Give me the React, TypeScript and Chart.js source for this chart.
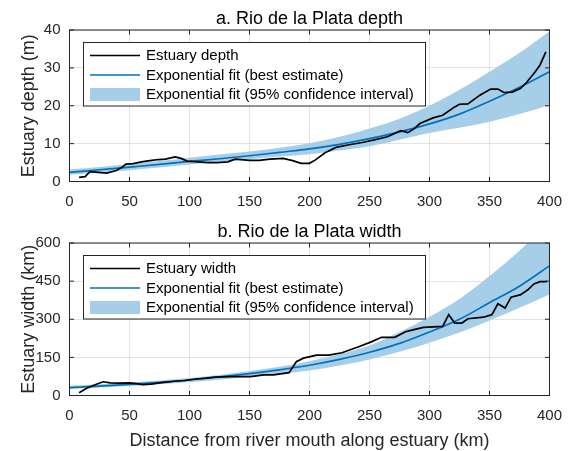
import React, { useEffect, useRef } from 'react';
import { Chart, registerables } from 'chart.js';
Chart.register(...registerables);

// ---------- data ----------
const fitKm = [0, 25, 50, 75, 100, 125, 150, 175, 200, 225, 250, 275, 300, 325, 350, 375, 400];

const depthKm = [8, 13, 17, 24, 31, 39, 44, 47, 53, 60, 67, 74, 80, 88, 93, 98, 107, 115, 123, 132, 138, 150, 158, 167, 178, 186, 193, 200, 205, 213, 222, 233, 244, 254, 265, 276, 282, 287, 292, 303, 311, 321, 325, 332, 342, 351, 357, 362, 369, 376, 381, 387, 392, 397];
const depthM = [1.1, 1.3, 2.6, 2.4, 2.2, 2.9, 3.8, 4.6, 4.7, 5.2, 5.5, 5.8, 5.9, 6.5, 6.1, 5.4, 5.2, 5.0, 5.0, 5.2, 5.9, 5.6, 5.6, 5.9, 6.1, 5.5, 4.8, 4.8, 5.7, 7.6, 9.0, 9.7, 10.3, 11.0, 11.8, 13.4, 12.9, 13.9, 15.3, 16.8, 17.5, 19.7, 20.4, 20.5, 22.8, 24.4, 24.4, 23.5, 23.6, 24.6, 26.2, 28.5, 30.7, 34.2];
const depthFit = [2.4, 3.1, 3.8, 4.5, 5.3, 6.0, 6.8, 7.7, 8.6, 9.8, 11.3, 13.1, 15.2, 17.8, 21.2, 24.9, 29.0];
const depthLower = [1.8, 2.4, 3.0, 3.7, 4.5, 5.2, 5.9, 6.6, 7.2, 8.2, 9.3, 11.0, 12.8, 14.2, 15.8, 17.8, 20.2];
const depthUpper = [3.2, 3.8, 4.6, 5.4, 6.3, 7.1, 7.9, 8.9, 10.1, 11.8, 14.0, 16.6, 20.0, 24.2, 29.0, 34.0, 39.7];

const widthKm = [8, 15, 23, 28, 34, 42, 50, 56, 61, 68, 75, 88, 96, 105, 114, 121, 134, 151, 162, 170, 183, 189, 195, 206, 216, 227, 241, 252, 260, 271, 280, 287, 295, 311, 316, 321, 327, 332, 345, 352, 357, 363, 368, 376, 382, 387, 392, 398];
const widthVal = [11, 30, 45, 54, 50, 49, 50, 47, 43, 45, 50, 56, 59, 65, 68, 72, 74, 74, 81, 81, 90, 133, 147, 159, 159, 168, 192, 212, 229, 229, 251, 259, 268, 272, 318, 285, 285, 302, 308, 318, 361, 344, 387, 397, 416, 439, 448, 448];
const widthFit = [31, 37, 44, 52, 61, 73, 86, 101, 119, 142, 170, 205, 250, 300, 365, 430, 510];
const widthLower = [26, 31, 37, 44, 53, 62, 74, 86, 98, 118, 142, 172, 208, 248, 295, 345, 397];
const widthUpper = [38, 44, 51, 59, 69, 81, 96, 113, 135, 163, 197, 250, 310, 380, 470, 570, 680];

const depthTicks = [0, 10, 20, 30, 40];
const widthTicks = [0, 150, 300, 450, 600];
const distanceTicks = [0, 50, 100, 150, 200, 250, 300, 350, 400];

// ---------- style ----------
const FONT = '"Liberation Sans", Arial, Helvetica, sans-serif';
const BLUE = '#0072BD';
const BAND = '#A6CEE8';
const AXIS = '#262626';

const pts = (xs: number[], ys: number[]) => xs.map((x, i) => ({ x, y: ys[i] }));

interface PanelSpec {
  title: string;
  yTitle: string;
  xTitle?: string;
  yMax: number;
  yStep: number;
  yTicks: number[];
  top: number; // chart area top (page px)
  bottom: number; // chart area bottom (page px)
  dataKm: number[];
  dataVal: number[];
  fit: number[];
  lower: number[];
  upper: number[];
  legendLabel: string;
}

const panels: PanelSpec[] = [
  {
    title: 'a. Rio de la Plata depth',
    yTitle: 'Estuary depth (m)',
    yMax: 40,
    yStep: 10,
    yTicks: depthTicks,
    top: 30,
    bottom: 181.5,
    dataKm: depthKm,
    dataVal: depthM,
    fit: depthFit,
    lower: depthLower,
    upper: depthUpper,
    legendLabel: 'Estuary depth',
  },
  {
    title: 'b. Rio de la Plata width',
    yTitle: 'Estuary width (km)',
    xTitle: 'Distance from river mouth along estuary (km)',
    yMax: 600,
    yStep: 150,
    yTicks: widthTicks,
    top: 243,
    bottom: 395.5,
    dataKm: widthKm,
    dataVal: widthVal,
    fit: widthFit,
    lower: widthLower,
    upper: widthUpper,
    legendLabel: 'Estuary width',
  },
];

const W = 573;
const H = 451;
const LEFT = 69.5;
const RIGHT = 557;

function decorPlugin(p: PanelSpec) {
  return {
    id: 'decor',
    afterDraw(chart: any) {
      const ctx = chart.ctx as CanvasRenderingContext2D;
      const a = chart.chartArea;
      const xs = chart.scales.x;
      const ys = chart.scales.y;
      ctx.save();
      // box
      ctx.strokeStyle = AXIS;
      ctx.lineWidth = 1;
      ctx.strokeRect(a.left, a.top, a.right - a.left, a.bottom - a.top);
      // inward ticks
      const tl = 4.5;
      ctx.beginPath();
      distanceTicks.forEach((t) => {
        const x = xs.getPixelForValue(t);
        ctx.moveTo(x, a.bottom);
        ctx.lineTo(x, a.bottom - tl);
        ctx.moveTo(x, a.top);
        ctx.lineTo(x, a.top + tl);
      });
      p.yTicks.forEach((t) => {
        const y = ys.getPixelForValue(t);
        ctx.moveTo(a.left, y);
        ctx.lineTo(a.left + tl, y);
        ctx.moveTo(a.right, y);
        ctx.lineTo(a.right - tl, y);
      });
      ctx.stroke();

      // title
      ctx.fillStyle = '#000';
      ctx.font = `18px ${FONT}`;
      ctx.textAlign = 'center';
      ctx.textBaseline = 'alphabetic';
      ctx.fillText(p.title, (a.left + a.right) / 2, a.top - 6.5);

      // y title
      ctx.save();
      ctx.fillStyle = AXIS;
      ctx.translate(34, (a.top + a.bottom) / 2);
      ctx.rotate(-Math.PI / 2);
      ctx.textAlign = 'center';
      ctx.textBaseline = 'alphabetic';
      ctx.font = `18px ${FONT}`;
      ctx.fillText(p.yTitle, 0, 0);
      ctx.restore();

      // x title
      if (p.xTitle) {
        ctx.fillStyle = AXIS;
        ctx.font = `18px ${FONT}`;
        ctx.textAlign = 'center';
        ctx.textBaseline = 'alphabetic';
        ctx.fillText(p.xTitle, (a.left + a.right) / 2, 446);
      }

      // legend
      const bx = 83.5;
      const by = a.top + 12.5;
      const bw = 342;
      const bh = 63.5;
      ctx.fillStyle = '#fff';
      ctx.fillRect(bx, by, bw, bh);
      ctx.strokeStyle = AXIS;
      ctx.lineWidth = 1;
      ctx.strokeRect(bx, by, bw, bh);
      const rows = [by + 13, by + 32.5, by + 52];
      const sx0 = 90;
      const sx1 = 140;
      ctx.lineWidth = 1.6;
      ctx.strokeStyle = '#000';
      ctx.beginPath();
      ctx.moveTo(sx0, rows[0]);
      ctx.lineTo(sx1, rows[0]);
      ctx.stroke();
      ctx.strokeStyle = BLUE;
      ctx.beginPath();
      ctx.moveTo(sx0, rows[1]);
      ctx.lineTo(sx1, rows[1]);
      ctx.stroke();
      ctx.fillStyle = BAND;
      ctx.fillRect(sx0, rows[2] - 6.5, sx1 - sx0, 13);
      ctx.fillStyle = '#000';
      ctx.font = `15px ${FONT}`;
      ctx.textAlign = 'left';
      ctx.textBaseline = 'middle';
      ctx.fillText(p.legendLabel, 146, rows[0] + 0.5);
      ctx.fillText('Exponential fit (best estimate)', 146, rows[1] + 0.5);
      ctx.fillText('Exponential fit (95% confidence interval)', 146, rows[2] + 0.5);
      ctx.restore();
    },
  };
}

function makeConfig(p: PanelSpec): any {
  return {
    type: 'line',
    data: {
      datasets: [
        {
          label: 'lower',
          data: pts(fitKm, p.lower),
          borderColor: 'rgba(0,0,0,0)',
          borderWidth: 0,
          pointRadius: 0,
          fill: false,
          cubicInterpolationMode: 'monotone',
          order: 3,
        },
        {
          label: 'Exponential fit (95% confidence interval)',
          data: pts(fitKm, p.upper),
          borderColor: 'rgba(0,0,0,0)',
          borderWidth: 0,
          backgroundColor: BAND,
          pointRadius: 0,
          fill: '-1',
          cubicInterpolationMode: 'monotone',
          order: 3,
        },
        {
          label: 'Exponential fit (best estimate)',
          data: pts(fitKm, p.fit),
          borderColor: BLUE,
          borderWidth: 1.7,
          pointRadius: 0,
          fill: false,
          cubicInterpolationMode: 'monotone',
          order: 1,
        },
        {
          label: p.legendLabel,
          data: pts(p.dataKm, p.dataVal),
          borderColor: '#000',
          borderWidth: 1.7,
          pointRadius: 0,
          fill: false,
          tension: 0,
          order: 0,
        },
      ],
    },
    options: {
      animation: false,
      responsive: false,
      events: [],
      layout: {
        padding: { left: 0, right: W - RIGHT, top: p.top, bottom: H - p.bottom - 40 },
      },
      plugins: {
        legend: { display: false },
        tooltip: { enabled: false },
        title: { display: false },
      },
      scales: {
        x: {
          type: 'linear',
          min: 0,
          max: 400,
          afterFit: (s: any) => {
            s.height = 40;
          },
          afterBuildTicks: (s: any) => {
            s.ticks = distanceTicks.map((v) => ({ value: v }));
          },
          ticks: {
            padding: 11,
            color: AXIS,
            font: { family: FONT, size: 15 },
            maxRotation: 0,
          },
          grid: { color: 'rgba(38,38,38,0.13)', lineWidth: 1, drawTicks: false },
          border: { display: false },
        },
        y: {
          type: 'linear',
          min: 0,
          max: p.yMax,
          afterFit: (s: any) => {
            s.width = LEFT;
          },
          afterBuildTicks: (s: any) => {
            s.ticks = p.yTicks.map((v) => ({ value: v }));
          },
          ticks: {
            padding: 9,
            color: AXIS,
            font: { family: FONT, size: 15 },
          },
          grid: { color: 'rgba(38,38,38,0.13)', lineWidth: 1, drawTicks: false },
          border: { display: false },
        },
      },
    },
    plugins: [decorPlugin(p)],
  };
}

function Panel({ spec }: { spec: PanelSpec }) {
  const ref = useRef<HTMLCanvasElement | null>(null);
  useEffect(() => {
    if (!ref.current) return;
    const chart = new Chart(ref.current, makeConfig(spec));
    return () => chart.destroy();
  }, [spec]);
  return (
    <canvas
      ref={ref}
      width={W}
      height={H}
      style={{ position: 'absolute', left: 0, top: 0, width: W, height: H, display: 'block' }}
    />
  );
}

export default function App() {
  return (
    <div
      style={{
        position: 'fixed',
        left: 0,
        top: 0,
        width: W,
        height: H,
        background: '#fff',
        overflow: 'hidden',
      }}
    >
      {panels.map((p) => (
        <Panel key={p.title} spec={p} />
      ))}
    </div>
  );
}
